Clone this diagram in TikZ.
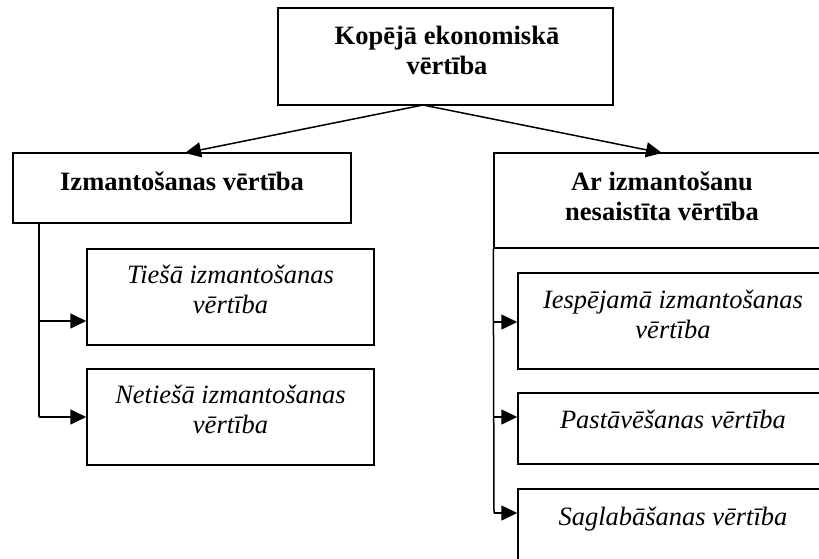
\documentclass[tikz,border=0pt]{standalone}
\usepackage{fontspec}
\setmainfont{Liberation Serif}
\usetikzlibrary{arrows.meta}
\begin{document}
\begin{tikzpicture}[x=1pt,y=-1pt,
  box/.style={draw, line width=1.5pt, inner sep=0pt},
  lbl/.style={anchor=base, align=center, inner sep=0pt,
    font=\fontsize{26.5}{30}\selectfont},
  bl/.style={lbl, font=\fontsize{26.5}{30}\selectfont\bfseries},
  il/.style={lbl, font=\fontsize{26.5}{30}\selectfont\itshape},
  conn/.style={line width=1.5pt},
  arr/.style={conn, -{Triangle[length=16pt,width=15pt]}}]
\clip (0,0) rectangle (819,558);
\fill[white] (0,0) rectangle (819,558);
% boxes
\node[box, minimum width=335pt, minimum height=97pt] (top) at (445.5,56.5) {};
\node[box, minimum width=338pt, minimum height=70pt] (use) at (182,188) {};
\node[box, minimum width=287pt, minimum height=96pt] (l1) at (230.5,297) {};
\node[box, minimum width=287pt, minimum height=96pt] (l2) at (230.5,417) {};
\node[box, minimum width=346pt, minimum height=95pt] (non) at (667,200.5) {};
\node[box, minimum width=322pt, minimum height=96pt] (r1) at (679,321) {};
\node[box, minimum width=322pt, minimum height=71pt] (r2) at (679,428.5) {};
\node[box, minimum width=322pt, minimum height=101pt] (r3) at (679,539.5) {};
% texts (base = baseline of last line)
\node[bl] (ttop) at (447,74) {Kopējā ekonomiskā\\vērtība};
\node[bl] (tuse) at (182,190) {Izmantošanas vērtība};
\node[il] (tl1) at (230.5,313) {Tiešā izmantošanas\\vērtība};
\node[il] (tl2) at (230.5,433) {Netiešā izmantošanas\\vērtība};
\node[bl] (tnon) at (662,220) {Ar izmantošanu\\nesaistīta vērtība};
\node[il] (tr1) at (673,338) {Iespējamā izmantošanas\\vērtība};
\node[il] (tr2) at (673,428) {Pastāvēšanas vērtība};
\node[il] (tr3) at (673,525) {Saglabāšanas vērtība};
% connectors
\coordinate (src) at (423,105);
\draw[arr] (src) -- (185,153);
\draw[arr] (src) -- (662,153);
\coordinate (lj1) at (39,321);
\coordinate (lj2) at (39,417);
\draw[conn] (39,223) -- (lj2);
\draw[arr] (lj1) -- (l1.west |- lj1);
\draw[arr] (lj2) -- (l2.west |- lj2);
\coordinate (rj1) at (494,322);
\coordinate (rj2) at (494,417);
\coordinate (rj3) at (494,513);
\draw[conn] (non.south west) -- (rj3);
\draw[arr] (rj1) -- (r1.west |- rj1);
\draw[arr] (rj2) -- (r2.west |- rj2);
\draw[arr] (rj3) -- (r3.west |- rj3);
\end{tikzpicture}
\end{document}
